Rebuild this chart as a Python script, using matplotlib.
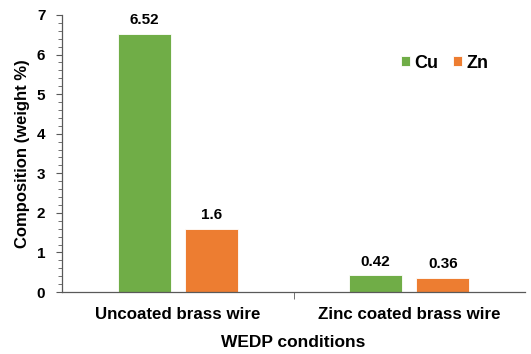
import matplotlib
matplotlib.use('Agg')
import matplotlib.pyplot as plt
import numpy as np
from matplotlib.ticker import MultipleLocator, FixedLocator

# data
categories = ['Uncoated brass wire', 'Zinc coated brass wire']
cu_values = [6.52, 0.42]
zn_values = [1.6, 0.36]
cu_labels = ['6.52', '0.42']
zn_labels = ['1.6', '0.36']

plt.rcParams['font.family'] = ['Liberation Sans', 'DejaVu Sans']
plt.rcParams['font.weight'] = 'bold'

green = '#70AD47'
orange = '#ED7D31'
axis_gray = '#595959'

fig = plt.figure(figsize=(5.31, 3.54), dpi=100)
ax = fig.add_axes([62 / 531, 1 - 292 / 354, 463 / 531, 277 / 354])

x = np.arange(len(categories))
w = 0.229
off = 0.145
ax.bar(x - off, cu_values, w, color=green, edgecolor='white', linewidth=0.6, label='Cu')
ax.bar(x + off, zn_values, w, color=orange, edgecolor='white', linewidth=0.6, label='Zn')

for xi, v, s in zip(x - off, cu_values, cu_labels):
    ax.text(xi, v + 0.17, s, ha='center', va='bottom', fontsize=11, fontweight='bold')
for xi, v, s in zip(x + off, zn_values, zn_labels):
    ax.text(xi, v + 0.17, s, ha='center', va='bottom', fontsize=11, fontweight='bold')

ax.set_xlim(-0.5, 1.5)
ax.set_ylim(0, 7)

ax.set_xticks(x)
ax.set_xticklabels(categories, fontsize=12.2, fontweight='bold')
ax.xaxis.set_minor_locator(FixedLocator([0.5]))
ax.tick_params(axis='x', which='major', length=0, pad=11)
ax.tick_params(axis='x', which='minor', length=5, direction='out', color=axis_gray)

ax.yaxis.set_major_locator(MultipleLocator(1))
ax.yaxis.set_minor_locator(MultipleLocator(0.2))
ax.tick_params(axis='y', which='major', length=4, direction='out', color=axis_gray,
               labelsize=11, pad=8)
ax.tick_params(axis='y', which='minor', length=3, direction='out', color=axis_gray)

for side in ['top', 'right']:
    ax.spines[side].set_visible(False)
for side in ['left', 'bottom']:
    ax.spines[side].set_color(axis_gray)
    ax.spines[side].set_linewidth(0.9)

ax.set_ylabel('Composition (weight %)', fontsize=12, fontweight='bold', labelpad=5)
ax.set_xlabel('WEDP conditions', fontsize=12.5, fontweight='bold', labelpad=9)

ax.legend(loc='center left', bbox_to_anchor=(401 / 531, 1 - 63 / 354),
          bbox_transform=fig.transFigure, frameon=False, ncol=2,
          prop={'size': 13, 'weight': 'bold'}, handlelength=0.5, handleheight=0.5,
          columnspacing=0.8, handletextpad=0.25, borderpad=0, borderaxespad=0)

fig.savefig('out.png', dpi=100)
